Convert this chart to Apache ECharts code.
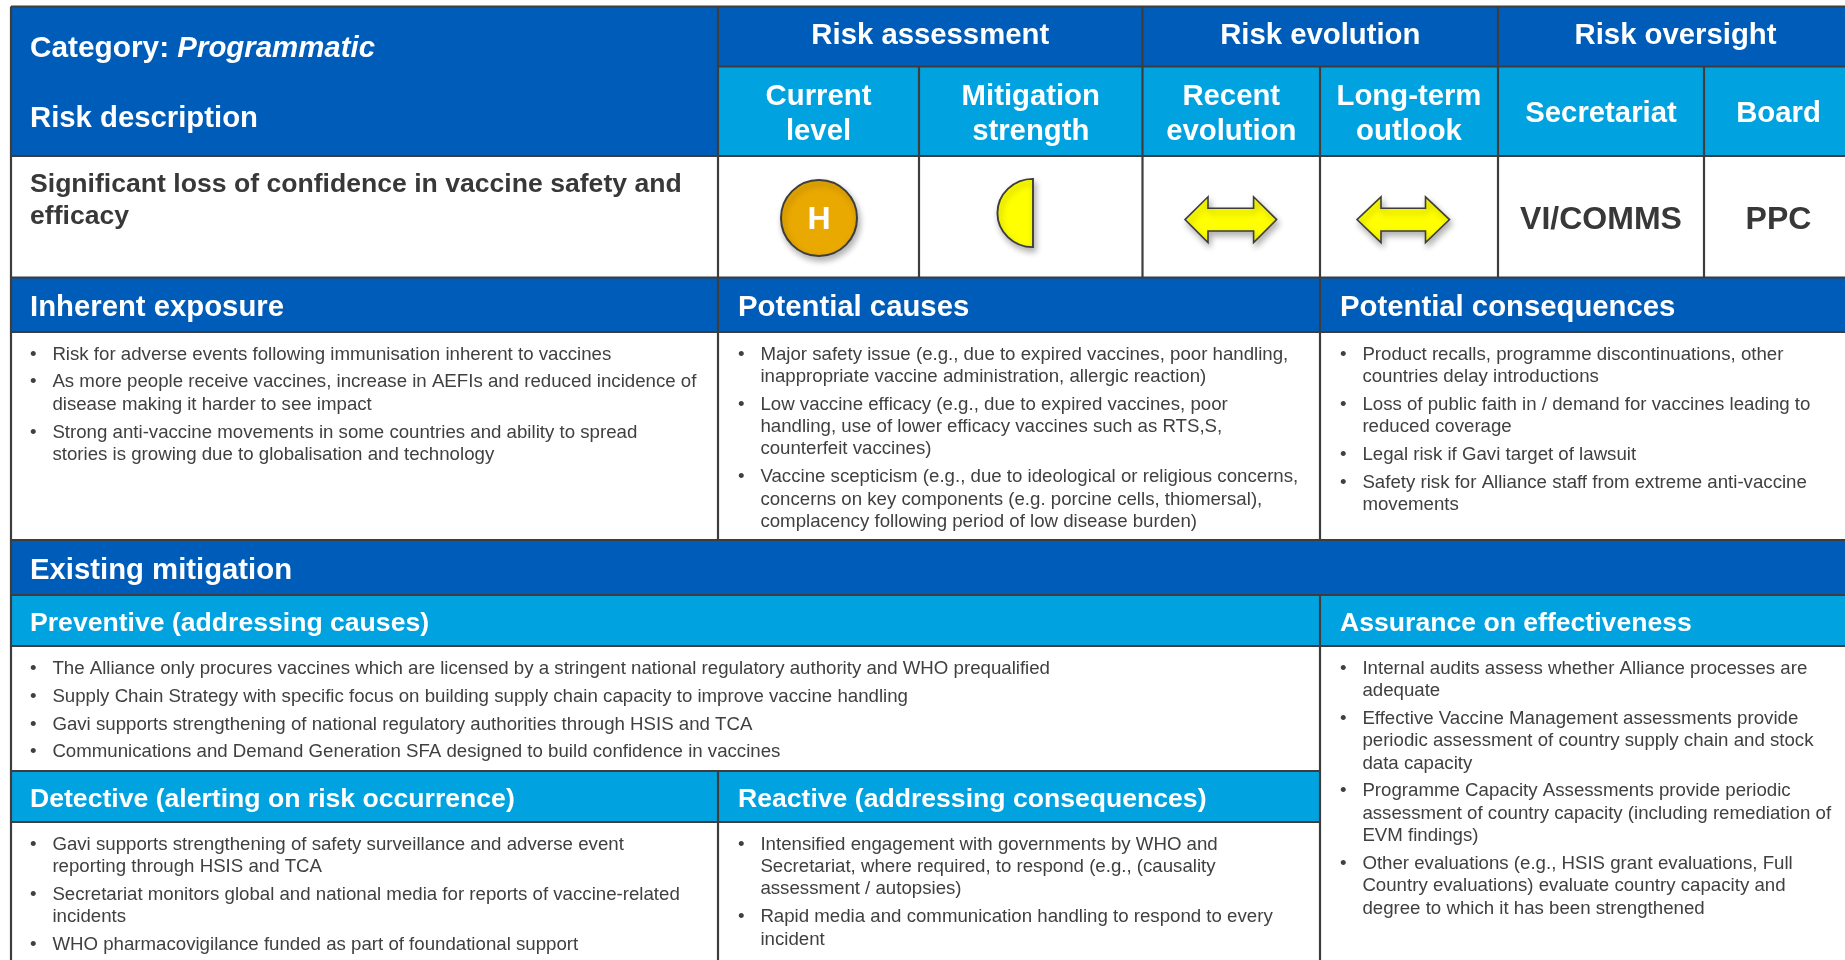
<!DOCTYPE html>
<html><head><meta charset="utf-8">
<style>html,body{margin:0;padding:0;background:#fff}#c{width:1845px;height:960px}</style>
<script src="https://cdn.jsdelivr.net/npm/echarts@6/dist/echarts.min.js"></script>
</head><body><div id="c"></div>
<script>
// ---- content ----
const categoryLabel = 'Category: ';
const categoryName = 'Programmatic';
const riskHeader = 'Risk description';
const riskDescription = ['Significant loss of confidence in vaccine safety and', 'efficacy'];
const groupHeaders = ['Risk assessment', 'Risk evolution', 'Risk oversight'];
const columnHeaders = [['Current', 'level'], ['Mitigation', 'strength'], ['Recent', 'evolution'], ['Long-term', 'outlook'], ['Secretariat'], ['Board']];
const currentLevel = 'H';
const oversight = ['VI/COMMS', 'PPC'];
const sectionHeaders = ['Inherent exposure', 'Potential causes', 'Potential consequences', 'Existing mitigation'];
const mitigationHeaders = ['Preventive (addressing causes)', 'Assurance on effectiveness', 'Detective (alerting on risk occurrence)', 'Reactive (addressing consequences)'];
const inherentExposure = [
  ['Risk for adverse events following immunisation inherent to vaccines'],
  ['As more people receive vaccines, increase in AEFIs and reduced incidence of', 'disease making it harder to see impact'],
  ['Strong anti-vaccine movements in some countries and ability to spread', 'stories is growing due to globalisation and technology']
];
const potentialCauses = [
  ['Major safety issue (e.g., due to expired vaccines, poor handling,', 'inappropriate vaccine administration, allergic reaction)'],
  ['Low vaccine efficacy (e.g., due to expired vaccines, poor', 'handling, use of lower efficacy vaccines such as RTS,S,', 'counterfeit vaccines)'],
  ['Vaccine scepticism (e.g., due to ideological or religious concerns,', 'concerns on key components (e.g. porcine cells, thiomersal),', 'complacency following period of low disease burden)']
];
const potentialConsequences = [
  ['Product recalls, programme discontinuations, other', 'countries delay introductions'],
  ['Loss of public faith in / demand for vaccines leading to', 'reduced coverage'],
  ['Legal risk if Gavi target of lawsuit'],
  ['Safety risk for Alliance staff from extreme anti-vaccine', 'movements']
];
const preventive = [
  ['The Alliance only procures vaccines which are licensed by a stringent national regulatory authority and WHO prequalified'],
  ['Supply Chain Strategy with specific focus on building supply chain capacity to improve vaccine handling'],
  ['Gavi supports strengthening of national regulatory authorities through HSIS and TCA'],
  ['Communications and Demand Generation SFA designed to build confidence in vaccines']
];
const assurance = [
  ['Internal audits assess whether Alliance processes are', 'adequate'],
  ['Effective Vaccine Management assessments provide', 'periodic assessment of country supply chain and stock', 'data capacity'],
  ['Programme Capacity Assessments provide periodic', 'assessment of country capacity (including remediation of', 'EVM findings)'],
  ['Other evaluations (e.g., HSIS grant evaluations, Full', 'Country evaluations) evaluate country capacity and', 'degree to which it has been strengthened']
];
const detective = [
  ['Gavi supports strengthening of safety surveillance and adverse event', 'reporting through HSIS and TCA'],
  ['Secretariat monitors global and national media for reports of vaccine-related', 'incidents'],
  ['WHO pharmacovigilance funded as part of foundational support']
];
const reactive = [
  ['Intensified engagement with governments by WHO and', 'Secretariat, where required, to respond (e.g., (causality', 'assessment / autopsies)'],
  ['Rapid media and communication handling to respond to every', 'incident']
];

// ---- style and layout ----
const FONT = '"Liberation Sans", Arial, sans-serif';
const DARK = '#005cb9', LIGHT = '#00a3e0', LINE = '#3d3d3d', INK = '#404040', HEAVY = '#383838';
const H1 = `bold 29.3px ${FONT}`, H2 = `bold 26.6px ${FONT}`, BODY = `18.67px ${FONT}`;
const X = [11, 718, 919, 1142.5, 1320, 1498, 1704, 1853];
const Y = [6.5, 66.5, 156, 277.5, 332, 540, 595, 646, 771, 822, 960];
const els = [];
const rect = (x0, y0, x1, y1, fill) => els.push({type: 'rect', silent: true, shape: {x: x0, y: y0, width: x1 - x0, height: y1 - y0}, style: {fill}});
const seg = (x0, y0, x1, y1) => els.push({type: 'line', silent: true, z: 5, shape: {x1: x0, y1: y0, x2: x1, y2: y1}, style: {stroke: LINE, lineWidth: 2.2}});
const txt = (t, x, y, o = {}) => els.push({type: 'text', silent: true, z: 10, x, y, style: Object.assign({text: t, fill: '#fff', font: H1, textAlign: 'left', textVerticalAlign: 'middle'}, o)});

// fills
rect(X[0], Y[0], X[7], Y[2], DARK);
rect(X[1], Y[1], X[7], Y[2], LIGHT);
rect(X[0], Y[3], X[7], Y[4], DARK);
rect(X[0], Y[5], X[7], Y[6], DARK);
rect(X[0], Y[6], X[7], Y[7], LIGHT);
rect(X[0], Y[8], X[4], Y[9], LIGHT);

// rules
[0, 2, 3, 4, 5, 6, 7].forEach(yi => seg(X[0], Y[yi], X[7], Y[yi]));
seg(X[1], Y[1], X[7], Y[1]);
seg(X[0], Y[8], X[4], Y[8]);
seg(X[0], Y[9], X[4], Y[9]);
seg(X[0], Y[0], X[0], Y[10]);
seg(X[1], Y[0], X[1], Y[5]);
seg(X[2], Y[1], X[2], Y[3]);
seg(X[3], Y[0], X[3], Y[3]);
seg(X[4], Y[1], X[4], Y[5]);
seg(X[5], Y[0], X[5], Y[3]);
seg(X[6], Y[1], X[6], Y[3]);
seg(X[4], Y[6], X[4], Y[10]);
seg(X[1], Y[8], X[1], Y[10]);

// header texts
els.push({type: 'text', silent: true, z: 10, x: 30, y: 48.5, style: {text: '{a|' + categoryLabel + '}{b|' + categoryName + '}', textVerticalAlign: 'middle', rich: {a: {fill: '#fff', font: `bold 29.8px ${FONT}`}, b: {fill: '#fff', font: `italic bold 29.4px ${FONT}`}}}});
txt(riskHeader, 30, 118.5);
riskDescription.forEach((l, i) => txt(l, 30, 185 + i * 32, {fill: HEAVY, font: H2}));
const centerX = (a, b) => (X[a] + X[b]) / 2;
const groupSpans = [[1, 3], [3, 5], [5, 7]];
groupHeaders.forEach((g, i) => txt(g, centerX(groupSpans[i][0], groupSpans[i][1]), 35.5, {textAlign: 'center'}));
columnHeaders.forEach((c, i) => {
  const xc = centerX(i + 1, i + 2);
  c.forEach((l, j) => txt(l, xc, c.length === 1 ? 113.5 : 96.5 + j * 35, {textAlign: 'center'}));
});
oversight.forEach((o, i) => txt(o, centerX(5 + i, 6 + i), 220.5, {textAlign: 'center', fill: HEAVY, font: `bold 32px ${FONT}`}));
const sectionX = [30, 738, 1340];
sectionHeaders.slice(0, 3).forEach((s, i) => txt(s, sectionX[i], 307.5, {}));
txt(sectionHeaders[3], 30, 570.5);
txt(mitigationHeaders[0], 30, 623.5, {font: H2});
txt(mitigationHeaders[1], 1340, 623.5, {font: H2});
txt(mitigationHeaders[2], 30, 799.5, {font: H2});
txt(mitigationHeaders[3], 738, 799.5, {font: H2});

// bullet lists
const LH = 22.3, GAP = 5.6;
function bullets(list, x, y0) {
  let y = y0;
  list.forEach(b => {
    txt('\u2022', x, y, {font: BODY, fill: INK});
    b.forEach(l => { txt(l, x + 22.4, y, {font: BODY, fill: INK}); y += LH; });
    y += GAP;
  });
}
const bx = [30, 738, 1340];
bullets(inherentExposure, bx[0], 354.4);
bullets(potentialCauses, bx[1], 354.4);
bullets(potentialConsequences, bx[2], 354.4);
bullets(preventive, bx[0], 668.6);
bullets(assurance, bx[2], 668.6);
bullets(detective, bx[0], 844.6);
bullets(reactive, bx[1], 844.6);

// symbols
const shadow = {shadowBlur: 6, shadowColor: 'rgba(0,0,0,0.3)', shadowOffsetX: 2, shadowOffsetY: 4};
els.push({type: 'circle', silent: true, z: 8, shape: {cx: 819, cy: 218, r: 38}, style: Object.assign({fill: '#eaa900', stroke: LINE, lineWidth: 2}, shadow)});
txt(currentLevel, 819, 220, {textAlign: 'center', font: `bold 32px ${FONT}`});
els.push({type: 'sector', silent: true, z: 8, originX: 1033, originY: 213, scaleX: 1.04, shape: {cx: 1033, cy: 213, r0: 0, r: 34.2, startAngle: Math.PI / 2, endAngle: Math.PI * 1.5, clockwise: true}, style: Object.assign({fill: '#ffff00', stroke: LINE, lineWidth: 1.8}, shadow)});
function arrow(x0, x1, h) {
  const top = 196.8, bot = 242.6, s0 = 208.3, s1 = 231, mid = 219.6;
  els.push({type: 'polygon', silent: true, z: 8, shape: {points: [[x0, mid], [x0 + h, top], [x0 + h, s0], [x1 - h, s0], [x1 - h, top], [x1, mid], [x1 - h, bot], [x1 - h, s1], [x0 + h, s1], [x0 + h, bot]]}, style: Object.assign({fill: '#ffff00', stroke: LINE, lineWidth: 1.6}, shadow)});
}
arrow(1185, 1276.6, 23);
arrow(1357, 1449.5, 24);

const chart = echarts.init(document.getElementById('c'), null, {renderer: 'canvas'});
chart.setOption({animation: false, backgroundColor: '#fff', graphic: {elements: els}});
</script></body></html>
